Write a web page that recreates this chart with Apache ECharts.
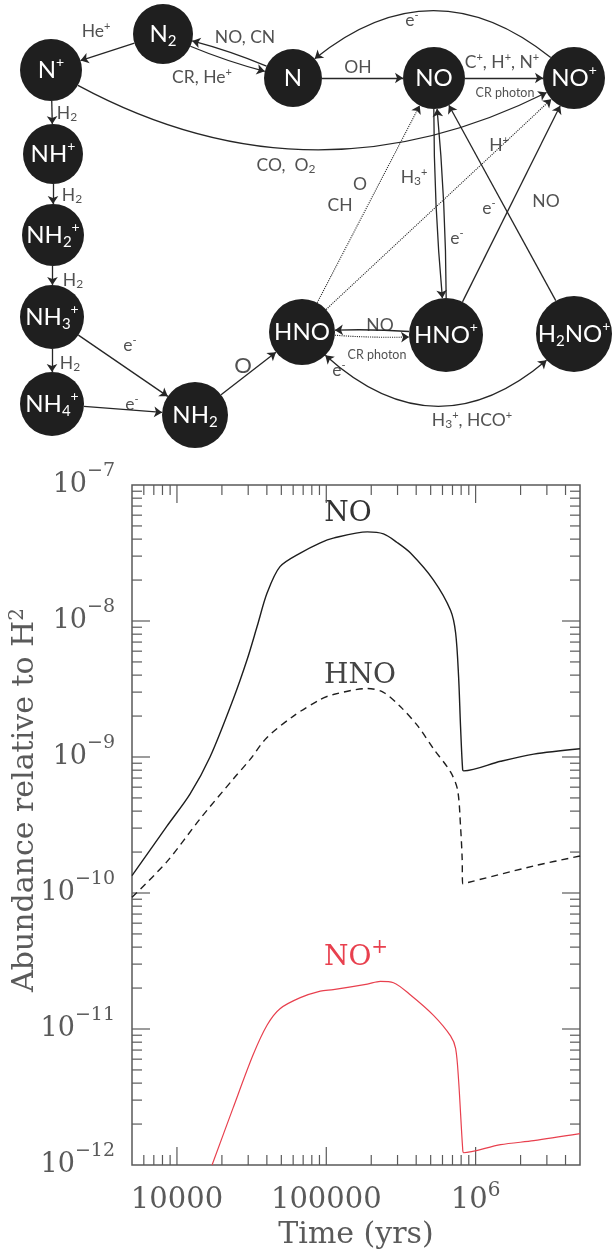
<!DOCTYPE html>
<html>
<head>
<meta charset="utf-8">
<script src="https://cdn.jsdelivr.net/npm/echarts@6/dist/echarts.min.js"></script>
<style>
html,body{margin:0;padding:0;background:#ffffff;}
#chart{width:616px;height:1255px;}
</style>
</head>
<body>
<div id="chart"></div>
<script>
// ---------------- chart data ----------------
const noSeries = [
  [5000, 1.34e-10], [8570, 3.1e-10], [12220, 5.33e-10], [16650, 1.0e-9],
  [23770, 2.65e-9], [29510, 5.21e-9], [34400, 9.1e-9], [40180, 1.61e-8],
  [48980, 2.51e-8], [66990, 3.16e-8], [91200, 3.76e-8], [111400, 4.07e-8],
  [188400, 4.52e-8], [241500, 4.37e-8], [298000, 3.78e-8], [366400, 3.16e-8],
  [522400, 2.0e-8], [679200, 1.2e-8], [734500, 8.2e-9], [769100, 3.9e-9],
  [792500, 1.68e-9], [818500, 8.1e-10], [831800, 7.9e-10], [1470000, 9.3e-10],
  [2450000, 1.05e-9], [5000000, 1.15e-9]
];
const hnoSeries = [
  [5000, 9.3e-11], [8570, 1.7e-10], [14260, 3.5e-10], [23770, 6.87e-10],
  [30900, 9.6e-10], [39810, 1.38e-9], [60260, 2.0e-9], [91200, 2.65e-9],
  [111400, 2.88e-9], [188400, 3.19e-9], [241500, 2.99e-9], [314100, 2.34e-9],
  [408300, 1.7e-9], [522400, 1.15e-9], [679200, 7.76e-10], [756800, 5.75e-10],
  [792500, 3.09e-10], [812800, 1.78e-10], [818500, 1.17e-10], [2450000, 1.58e-10],
  [5000000, 1.87e-10]
];
const noPlusSeries = [
  [17180, 1.0e-12], [23770, 2.63e-12], [32360, 6.46e-12], [40180, 1.07e-11],
  [48980, 1.41e-11], [66990, 1.70e-11], [91200, 1.9e-11], [111400, 1.95e-11],
  [188400, 2.14e-11], [230100, 2.24e-11], [281800, 2.19e-11], [366400, 1.78e-11],
  [522400, 1.26e-11], [679200, 8.9e-12], [734500, 7.2e-12], [769100, 4.2e-12],
  [818500, 1.33e-12], [831800, 1.23e-12], [1470000, 1.41e-12], [2450000, 1.51e-12],
  [5000000, 1.70e-12]
];
const xRange = [5000, 5000000];
const yRange = [1e-12, 1e-7];
const xMajorTicks = [10000, 100000, 1000000];
const xMinorTicks = [6000, 7000, 8000, 9000,
  20000, 30000, 40000, 50000, 60000, 70000, 80000, 90000,
  200000, 300000, 400000, 500000, 600000, 700000, 800000, 900000,
  2000000, 3000000, 4000000];
const yMajorTicks = [1e-11, 1e-10, 1e-9, 1e-8];
const yMinorTicks = [
  2e-12, 3e-12, 4e-12, 5e-12, 6e-12, 7e-12, 8e-12, 9e-12,
  2e-11, 3e-11, 4e-11, 5e-11, 6e-11, 7e-11, 8e-11, 9e-11,
  2e-10, 3e-10, 4e-10, 5e-10, 6e-10, 7e-10, 8e-10, 9e-10,
  2e-9, 3e-9, 4e-9, 5e-9, 6e-9, 7e-9, 8e-9, 9e-9,
  2e-8, 3e-8, 4e-8, 5e-8, 6e-8, 7e-8, 8e-8, 9e-8];

// ---------------- reaction network (diagram) ----------------
const diagramNodes = [
  ['N2', 'N{d|2}', 163, 34, 60],
  ['N+', 'N{u|+}', 51, 70, 62],
  ['N', 'N', 293, 78, 58],
  ['NO', 'NO', 434, 78, 62],
  ['NO+', 'NO{u|+}', 574, 78, 62],
  ['NH+', 'NH{u|+}', 53, 154, 60],
  ['NH2+', 'NH{d|2}{u|+}', 53, 235, 62],
  ['NH3+', 'NH{d|3}{u|+}', 52, 317, 64],
  ['NH4+', 'NH{d|4}{u|+}', 52, 404, 64],
  ['NH2', 'NH{d|2}', 195, 415, 66],
  ['HNO', 'HNO', 302, 332, 66],
  ['HNO+', 'HNO{u|+}', 446, 335, 74],
  ['H2NO+', 'H{d|2}NO{u|+}', 574, 334, 76]
];
const diagramEdges = [
  ['N2', 'N+', 0, 'solid', 1],
  ['N', 'N2', -0.06, 'solid', 1],
  ['N2', 'N', -0.06, 'solid', 1],
  ['N+', 'NH+', 0, 'solid', 1],
  ['NH+', 'NH2+', 0, 'solid', 1],
  ['NH2+', 'NH3+', 0, 'solid', 1],
  ['NH3+', 'NH4+', 0, 'solid', 1],
  ['NH3+', 'NH2', 0, 'solid', 1],
  ['NH4+', 'NH2', 0, 'solid', 1],
  ['NH2', 'HNO', 0, 'solid', 1],
  ['N', 'NO', 0, 'solid', 1],
  ['NO', 'NO+', 0, 'solid', 1],
  ['NO+', 'N', -0.48, 'solid', 1],
  ['N+', 'NO+', -0.29, 'solid', 1],
  ['HNO', 'NO', 0, 'dotted', 1],
  ['HNO', 'NO+', 0, 'dotted', 1],
  ['NO', 'HNO+', -0.03, 'solid', 1],
  ['HNO+', 'NO', -0.03, 'solid', 1],
  ['HNO+', 'NO+', 0, 'solid', 1],
  ['H2NO+', 'NO', 0, 'solid', 1],
  ['HNO+', 'HNO', -0.05, 'solid', 1],
  ['HNO', 'HNO+', -0.05, 'dotted', 1],
  ['HNO', 'H2NO+', -0.54, 'solid', 2]
];
const diagramLabels = [
  ['He{u|+}', 96, 31], ['NO, CN', 245, 37], ['CR, He{u|+}', 202, 77],
  ['H{d|2}', 67, 113], ['H{d|2}', 72, 195], ['H{d|2}', 73, 280], ['H{d|2}', 70, 363],
  ['e{u|-}', 130, 345], ['e{u|-}', 132, 404], ['{o|O}', 243, 366],
  ['OH', 358, 67], ['C{u|+}, H{u|+}, N{u|+}', 502, 62], ['{s|CR photon}', 505, 93],
  ['e{u|-}', 412, 20], ['CO,  O{d|2}', 286, 165], ['O', 360, 184], ['CH', 340, 205],
  ['H{u|+}', 499, 145], ['H{d|3}{u|+}', 414, 177], ['e{u|-}', 489, 208],
  ['NO', 546, 201], ['e{u|-}', 457, 238], ['NO', 380, 325], ['{s|CR photon}', 377, 355],
  ['e{u|-}', 339, 370], ['H{d|3}{u|+}, HCO{u|+}', 472, 420]
];

// ---------------- styles ----------------
const SERIF = 'DejaVu Serif';
const SANS = 'Lato';
const AX = '#5a5a5a';
const INK = '#262626';
const RED = '#e8404e';
const MAJOR = 18, MINOR = 10;

const chart = echarts.init(document.getElementById('chart'), null, {renderer: 'canvas'});

function isDecade(v) {
  const l = Math.log10(v);
  return Math.abs(l - Math.round(l)) < 1e-6;
}

function xTicks(len) {
  return function (params, api) {
    const v = api.value(0);
    const b = api.coord([v, yRange[0]]);
    const t = api.coord([v, yRange[1]]);
    const st = {stroke: AX, lineWidth: 1.2};
    return {type: 'group', children: [
      {type: 'line', shape: {x1: b[0], y1: b[1], x2: b[0], y2: b[1] - len}, style: st},
      {type: 'line', shape: {x1: t[0], y1: t[1], x2: t[0], y2: t[1] + len}, style: st}
    ]};
  };
}
function yTicks(len) {
  return function (params, api) {
    const v = api.value(1);
    const l = api.coord([xRange[0], v]);
    const r = api.coord([xRange[1], v]);
    const st = {stroke: AX, lineWidth: 1.2};
    return {type: 'group', children: [
      {type: 'line', shape: {x1: l[0], y1: l[1], x2: l[0] + len, y2: l[1]}, style: st},
      {type: 'line', shape: {x1: r[0], y1: r[1], x2: r[0] - len, y2: r[1]}, style: st}
    ]};
  };
}

const nodeRich = {
  u: {fontSize: 14, lineHeight: 14, verticalAlign: 'top', color: '#fff', fontFamily: SANS},
  d: {fontSize: 15, lineHeight: 15, verticalAlign: 'bottom', color: '#fff', fontFamily: SANS}
};
const labelRich = {
  u: {fontSize: 11, lineHeight: 11, verticalAlign: 'top', color: INK, fontFamily: SANS},
  d: {fontSize: 12, lineHeight: 12, verticalAlign: 'bottom', color: INK, fontFamily: SANS},
  s: {fontSize: 12.5, lineHeight: 20, color: INK, fontFamily: SANS},
  o: {fontSize: 22, lineHeight: 22, color: INK, fontFamily: SANS}
};

const option = {
  backgroundColor: '#ffffff',
  animation: false,
  grid: [
    {left: 0, top: 0, width: 616, height: 460, show: false},
    {left: 132, top: 485, width: 448, height: 682, show: true,
     borderColor: AX, borderWidth: 1.5, backgroundColor: 'transparent'}
  ],
  xAxis: [
    {type: 'value', gridIndex: 0, min: 0, max: 616, show: false},
    {type: 'log', gridIndex: 1, logBase: 10, min: xRange[0], max: xRange[1],
     axisLine: {show: false}, axisTick: {show: false}, splitLine: {show: false},
     name: 'Time (yrs)', nameLocation: 'middle', nameGap: 55,
     nameTextStyle: {fontFamily: SERIF, fontSize: 30, color: AX},
     axisLabel: {
       margin: 16, color: AX, fontFamily: SERIF,
       formatter: function (v) {
         if (!isDecade(v)) return '';
         const e = Math.round(Math.log10(v));
         if (e >= 6) return '{b|10}{s|' + e + '}';
         return '{b|' + Math.round(v) + '}';
       },
       rich: {
         b: {fontSize: 29, lineHeight: 38, fontFamily: SERIF, color: AX},
         s: {fontSize: 20, lineHeight: 20, verticalAlign: 'top', fontFamily: SERIF, color: AX}
       }
     }}
  ],
  yAxis: [
    {type: 'value', gridIndex: 0, min: 0, max: 460, inverse: true, show: false},
    {type: 'log', gridIndex: 1, logBase: 10, min: yRange[0], max: yRange[1],
     axisLine: {show: false}, axisTick: {show: false}, splitLine: {show: false},
     axisLabel: {
       margin: 17, color: AX, fontFamily: SERIF,
       formatter: function (v) {
         if (!isDecade(v)) return '';
         const e = Math.round(Math.log10(v));
         return '{b|10}{s|\u2212' + (-e) + '}';
       },
       rich: {
         b: {fontSize: 27, lineHeight: 46, fontFamily: SERIF, color: AX},
         s: {fontSize: 19, lineHeight: 19, verticalAlign: 'top', fontFamily: SERIF, color: AX}
       }
     }}
  ],
  graphic: [
    {type: 'text', x: 25, y: 800, rotation: Math.PI / 2,
     style: {text: '{t|Abundance relative to H}{u|2}', align: 'center', verticalAlign: 'middle',
       rich: {
         t: {fontFamily: SERIF, fontSize: 30, lineHeight: 34, fill: AX},
         u: {fontFamily: SERIF, fontSize: 20, lineHeight: 22, verticalAlign: 'top', fill: AX}
       }}},
    {type: 'text', x: 348, y: 514,
     style: {text: 'NO', fontFamily: SERIF, fontSize: 28, fill: '#333', align: 'center', verticalAlign: 'middle'}},
    {type: 'text', x: 360, y: 676,
     style: {text: 'HNO', fontFamily: SERIF, fontSize: 28, fill: '#444', align: 'center', verticalAlign: 'middle'}},
    {type: 'text', x: 356, y: 958,
     style: {text: '{b|NO}{s|+}', align: 'center', verticalAlign: 'middle',
       rich: {
         b: {fontFamily: SERIF, fontSize: 28, lineHeight: 40, fill: RED},
         s: {fontFamily: SERIF, fontSize: 20, lineHeight: 20, verticalAlign: 'top', fill: RED}
       }}}
  ],
  series: [
    {
      type: 'graph', coordinateSystem: 'cartesian2d', xAxisIndex: 0, yAxisIndex: 0,
      silent: true, roam: false,
      symbol: 'circle',
      itemStyle: {color: '#1f1f1f'},
      label: {show: true, position: 'inside', color: '#fff', fontFamily: SANS,
        fontSize: 24, lineHeight: 30, rich: nodeRich},
      data: diagramNodes.map(function (n) {
        return {name: n[0], value: [n[2], n[3]], symbolSize: n[4],
          label: {formatter: n[1]}};
      }),
      links: diagramEdges.map(function (e) {
        return {source: e[0], target: e[1],
          symbol: e[4] === 2 ? ['arrow', 'arrow'] : ['circle', 'arrow'],
          symbolSize: e[4] === 2 ? [8, 8] : [0.1, 8],
          lineStyle: {curveness: e[2], type: e[3], color: INK,
            width: e[3] === 'dotted' ? 1.1 : 1.3, opacity: 1}};
      })
    },
    {
      type: 'scatter', xAxisIndex: 0, yAxisIndex: 0, silent: true,
      symbolSize: 1, itemStyle: {color: 'rgba(0,0,0,0)'},
      label: {show: true, position: 'inside', color: INK, fontFamily: SANS,
        fontSize: 17.5, lineHeight: 20, rich: labelRich,
        formatter: function (p) { return p.data.txt; }},
      data: diagramLabels.map(function (l) { return {value: [l[1], l[2]], txt: l[0]}; }),
      z: 5
    },
    {
      name: 'NO', type: 'line', xAxisIndex: 1, yAxisIndex: 1, data: noSeries,
      showSymbol: false, smooth: 0.3, silent: true,
      lineStyle: {color: '#1e1e1e', width: 1.4}
    },
    {
      name: 'HNO', type: 'line', xAxisIndex: 1, yAxisIndex: 1, data: hnoSeries,
      showSymbol: false, smooth: 0.3, silent: true,
      lineStyle: {color: '#1e1e1e', width: 1.4, type: [7, 5]}
    },
    {
      name: 'NO+', type: 'line', xAxisIndex: 1, yAxisIndex: 1, data: noPlusSeries,
      showSymbol: false, smooth: 0.3, silent: true,
      lineStyle: {color: RED, width: 1.2}
    },
    {
      type: 'custom', xAxisIndex: 1, yAxisIndex: 1, silent: true,
      data: xMajorTicks.map(function (v) { return [v, yRange[0]]; }),
      renderItem: xTicks(MAJOR)
    },
    {
      type: 'custom', xAxisIndex: 1, yAxisIndex: 1, silent: true,
      data: xMinorTicks.map(function (v) { return [v, yRange[0]]; }),
      renderItem: xTicks(MINOR)
    },
    {
      type: 'custom', xAxisIndex: 1, yAxisIndex: 1, silent: true,
      data: yMajorTicks.map(function (v) { return [xRange[0], v]; }),
      renderItem: yTicks(MAJOR)
    },
    {
      type: 'custom', xAxisIndex: 1, yAxisIndex: 1, silent: true,
      data: yMinorTicks.map(function (v) { return [xRange[0], v]; }),
      renderItem: yTicks(MINOR)
    }
  ]
};
chart.setOption(option);
</script>
</body>
</html>
